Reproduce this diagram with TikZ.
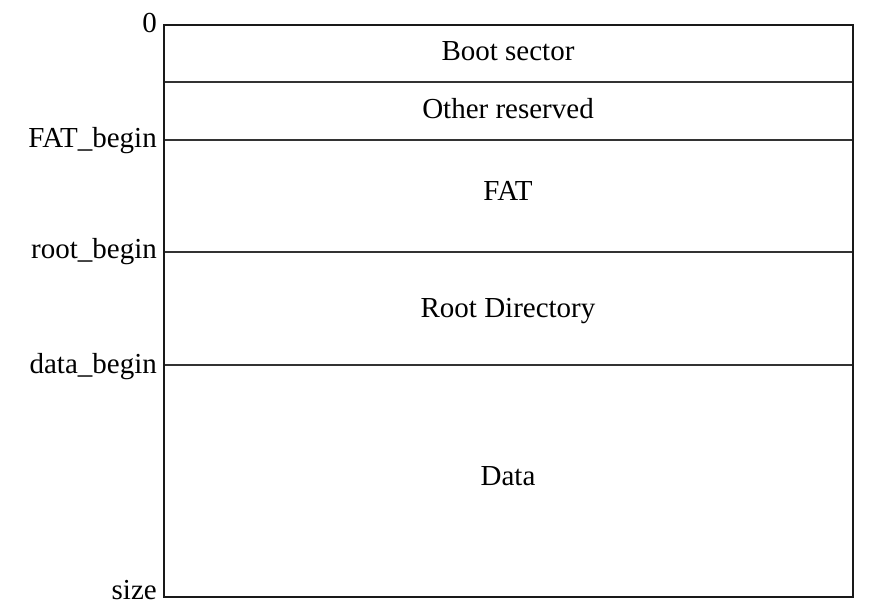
\documentclass[tikz,border=0pt]{standalone}
\usepackage{fontspec}
\setmainfont{Liberation Serif}
\begin{document}
\begin{tikzpicture}[x=1pt,y=-1pt,
  lbl/.style={font=\fontsize{29}{31}\selectfont, inner sep=0pt, anchor=base},
  side/.style={font=\fontsize{29}{31}\selectfont, inner sep=0pt, anchor=base east},
  outer/.style={line width=2pt, draw=black!90},
  sep/.style={line width=1.4pt, draw=black!80}]
\useasboundingbox (0,0) rectangle (870,604);
% section boundaries
\coordinate (tl) at (163.5,25.5);
\coordinate (br) at (853,597);
\coordinate (l1) at (163.5,82); \coordinate (r1) at (853,82);
\coordinate (l2) at (163.5,140); \coordinate (r2) at (853,140);
\coordinate (l3) at (163.5,252); \coordinate (r3) at (853,252);
\coordinate (l4) at (163.5,365); \coordinate (r4) at (853,365);
\draw[sep] (l1) -- (r1);
\draw[sep] (l2) -- (r2);
\draw[sep] (l3) -- (r3);
\draw[sep] (l4) -- (r4);
\draw[outer] (tl) rectangle (br);
% section labels
\node[lbl] (boot) at (508,61) {Boot sector};
\node[lbl] (other) at (508,119) {Other reserved};
\node[lbl] (fat) at (508,201) {FAT};
\node[lbl] (root) at (508,317.5) {Root Directory};
\node[lbl] (data) at (508,485) {Data};
% offset labels
\node[side] (zero) at (157,33) {0};
\node[side] (fatb) at (157,148) {FAT\_begin};
\node[side] (rootb) at (157,258.5) {root\_begin};
\node[side] (datab) at (157,373.5) {data\_begin};
\node[side] (size) at (157,599) {size};
\end{tikzpicture}
\end{document}
